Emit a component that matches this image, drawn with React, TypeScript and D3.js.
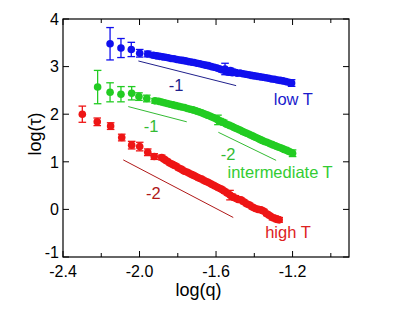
import React from 'react';
import * as d3 from 'd3';

// [log(q), log(tau), error]
const lowT: [number, number, number][] = [
  [-2.154, 3.48, 0.34], [-2.097, 3.39, 0.2], [-2.043, 3.36, 0.15], [-1.999, 3.28, 0.08],
  [-1.957, 3.265, 0.06], [-1.928, 3.24, 0.05], [-1.91, 3.225, 0.04], [-1.895, 3.215, 0.04],
  [-1.88, 3.205, 0.04], [-1.865, 3.195, 0.04], [-1.85, 3.185, 0.04], [-1.835, 3.17, 0.04],
  [-1.82, 3.165, 0.04], [-1.805, 3.15, 0.04], [-1.79, 3.14, 0.04], [-1.775, 3.13, 0.04],
  [-1.76, 3.12, 0.04], [-1.745, 3.105, 0.04], [-1.73, 3.095, 0.04], [-1.715, 3.085, 0.04],
  [-1.7, 3.07, 0.04], [-1.685, 3.06, 0.04], [-1.67, 3.045, 0.04], [-1.655, 3.03, 0.04],
  [-1.64, 3.02, 0.04], [-1.625, 3.0, 0.04], [-1.61, 2.985, 0.04], [-1.595, 2.97, 0.04],
  [-1.58, 2.95, 0.04], [-1.57, 2.935, 0.04], [-1.56, 2.93, 0.05], [-1.553, 2.95, 0.12],
  [-1.545, 2.9, 0.05], [-1.535, 2.88, 0.05], [-1.525, 2.915, 0.05], [-1.515, 2.87, 0.05],
  [-1.505, 2.885, 0.05], [-1.49, 2.86, 0.04], [-1.475, 2.865, 0.04], [-1.46, 2.85, 0.04],
  [-1.445, 2.84, 0.04], [-1.43, 2.83, 0.04], [-1.415, 2.815, 0.04], [-1.4, 2.805, 0.04],
  [-1.385, 2.795, 0.04], [-1.37, 2.785, 0.04], [-1.355, 2.775, 0.04], [-1.34, 2.765, 0.04],
  [-1.325, 2.755, 0.04], [-1.31, 2.74, 0.04], [-1.295, 2.735, 0.04], [-1.28, 2.72, 0.04],
  [-1.265, 2.71, 0.04], [-1.25, 2.7, 0.04], [-1.235, 2.685, 0.04], [-1.22, 2.67, 0.04],
  [-1.205, 2.655, 0.07],
];

const intermediateT: [number, number, number][] = [
  [-2.219, 2.57, 0.35], [-2.154, 2.46, 0.2], [-2.097, 2.42, 0.16], [-2.041, 2.44, 0.14],
  [-2.003, 2.37, 0.08], [-1.962, 2.33, 0.07], [-1.919, 2.28, 0.05], [-1.9, 2.27, 0.04],
  [-1.885, 2.255, 0.04], [-1.87, 2.24, 0.04], [-1.855, 2.225, 0.04], [-1.84, 2.21, 0.04],
  [-1.825, 2.195, 0.04], [-1.81, 2.18, 0.04], [-1.795, 2.165, 0.04], [-1.78, 2.15, 0.04],
  [-1.765, 2.14, 0.04], [-1.75, 2.12, 0.04], [-1.735, 2.105, 0.04], [-1.72, 2.09, 0.04],
  [-1.705, 2.07, 0.04], [-1.69, 2.05, 0.04], [-1.675, 2.03, 0.04], [-1.66, 2.005, 0.04],
  [-1.645, 1.98, 0.04], [-1.63, 1.955, 0.04], [-1.615, 1.93, 0.04], [-1.6, 1.905, 0.04],
  [-1.59, 1.88, 0.1], [-1.58, 1.86, 0.05], [-1.57, 1.84, 0.05], [-1.56, 1.825, 0.05],
  [-1.545, 1.79, 0.04], [-1.53, 1.765, 0.04], [-1.515, 1.74, 0.04], [-1.5, 1.71, 0.04],
  [-1.485, 1.685, 0.04], [-1.47, 1.655, 0.04], [-1.455, 1.625, 0.04], [-1.44, 1.6, 0.04],
  [-1.425, 1.575, 0.04], [-1.41, 1.545, 0.04], [-1.395, 1.515, 0.04], [-1.38, 1.49, 0.04],
  [-1.365, 1.46, 0.04], [-1.35, 1.43, 0.04], [-1.335, 1.41, 0.04], [-1.32, 1.385, 0.04],
  [-1.305, 1.36, 0.04], [-1.29, 1.335, 0.04], [-1.275, 1.31, 0.04], [-1.26, 1.29, 0.04],
  [-1.245, 1.26, 0.04], [-1.23, 1.24, 0.04], [-1.215, 1.21, 0.04], [-1.2, 1.18, 0.07],
];

const highT: [number, number, number][] = [
  [-2.299, 2.0, 0.17], [-2.221, 1.84, 0.08], [-2.151, 1.75, 0.07], [-2.093, 1.51, 0.07],
  [-2.041, 1.35, 0.08], [-1.999, 1.32, 0.09], [-1.957, 1.2, 0.07], [-1.923, 1.11, 0.06],
  [-1.884, 1.09, 0.05], [-1.87, 1.05, 0.04], [-1.855, 1.01, 0.04], [-1.84, 0.97, 0.04],
  [-1.825, 0.94, 0.04], [-1.81, 0.91, 0.04], [-1.795, 0.87, 0.04], [-1.78, 0.84, 0.04],
  [-1.765, 0.8, 0.04], [-1.75, 0.78, 0.04], [-1.735, 0.75, 0.04], [-1.72, 0.72, 0.04],
  [-1.705, 0.69, 0.04], [-1.69, 0.66, 0.04], [-1.675, 0.635, 0.04], [-1.66, 0.6, 0.04],
  [-1.645, 0.575, 0.04], [-1.63, 0.545, 0.04], [-1.615, 0.51, 0.04], [-1.6, 0.48, 0.04],
  [-1.585, 0.45, 0.04], [-1.57, 0.42, 0.04], [-1.555, 0.38, 0.04], [-1.54, 0.34, 0.04],
  [-1.527, 0.3, 0.1], [-1.515, 0.27, 0.05], [-1.5, 0.24, 0.05], [-1.485, 0.21, 0.04],
  [-1.47, 0.2, 0.04], [-1.455, 0.16, 0.04], [-1.44, 0.12, 0.04], [-1.425, 0.09, 0.04],
  [-1.41, 0.05, 0.04], [-1.395, 0.02, 0.04], [-1.38, 0.0, 0.04], [-1.365, -0.01, 0.04],
  [-1.35, -0.04, 0.04], [-1.335, -0.09, 0.04], [-1.32, -0.13, 0.04], [-1.305, -0.17, 0.05],
  [-1.29, -0.19, 0.05], [-1.28, -0.21, 0.05], [-1.27, -0.22, 0.05],
];

// slope guide lines: [x1, y1, x2, y2] and label centre
const guideLines = [
  { pts: [-2.006, 3.118, -1.495, 2.6], color: '#20208c', label: '-1', lx: -1.809, ly: 2.61 },
  { pts: [-2.059, 2.16, -1.753, 1.84], color: '#33bb33', label: '-1', lx: -1.94, ly: 1.75 },
  { pts: [-1.588, 1.62, -1.286, 1.03], color: '#33bb33', label: '-2', lx: -1.537, ly: 1.16 },
  { pts: [-2.085, 1.04, -1.51, -0.17], color: '#b01818', label: '-2', lx: -1.928, ly: 0.34 },
];

const seriesInfo = [
  { name: 'low T', data: lowT, color: '#1010ee', lx: -1.196, ly: 2.32, labelFill: '#1a1acc' },
  { name: 'intermediate T', data: intermediateT, color: '#22cc22', lx: -1.265, ly: 0.78, labelFill: '#33cc33' },
  { name: 'high T', data: highT, color: '#ee1515', lx: -1.224, ly: -0.47, labelFill: '#dd2222' },
];

const xMajor = [-2.4, -2.0, -1.6, -1.2];
const xMinor = [-2.2, -1.8, -1.4, -1.0];
const yTicks = [4, 3, 2, 1, 0, -1];

const width = 393;
const height = 312;
const left = 63, right = 349, top = 19, bottom = 257;
const font = '"Liberation Sans", Arial, Helvetica, sans-serif';

const App: React.FC = () => {
  const x = d3.scaleLinear().domain([-2.4, -0.905]).range([left, right]);
  const y = d3.scaleLinear().domain([-1, 4]).range([bottom, top]);

  return (
    <div style={{ position: 'absolute', left: 0, top: 0 }}>
      <svg width={width} height={height} style={{ display: 'block', background: '#fff' }}>
        {/* frame */}
        <rect x={left} y={top} width={right - left} height={bottom - top} fill="none" stroke="#000" strokeWidth={1.2} />

        {/* ticks */}
        {xMajor.concat(xMinor).map((t) => {
          const len = xMajor.includes(t) ? 6 : 4;
          return (
            <g key={'xt' + t} stroke="#000" strokeWidth={1}>
              <line x1={x(t)} x2={x(t)} y1={bottom} y2={bottom - len} />
              <line x1={x(t)} x2={x(t)} y1={top} y2={top + len} />
            </g>
          );
        })}
        {yTicks.map((t) => (
          <g key={'yt' + t} stroke="#000" strokeWidth={1}>
            <line x1={left} x2={left + 6} y1={y(t)} y2={y(t)} />
            <line x1={right} x2={right - 6} y1={y(t)} y2={y(t)} />
          </g>
        ))}

        {/* tick labels */}
        {xMajor.map((t) => (
          <text key={'xl' + t} x={x(t)} y={276.5} textAnchor="middle" fontFamily={font} fontSize={16} fill="#000">
            {d3.format('.1f')(t).replace('−', '-')}
          </text>
        ))}
        {yTicks.map((t) => (
          <text key={'yl' + t} x={59} y={y(t) + (t === -1 ? -5 : 0)} dy="0.36em" textAnchor="end" fontFamily={font} fontSize={16} fill="#000">
            {String(t)}
          </text>
        ))}

        {/* axis titles */}
        <text x={198.5} y={296} textAnchor="middle" fontFamily={font} fontSize={18} fill="#000">log(q)</text>
        <text transform="translate(41,134) rotate(-90)" textAnchor="middle" fontFamily={font} fontSize={18} fill="#000">log(τ)</text>

        {/* guide lines */}
        {guideLines.map((g, i) => (
          <g key={'g' + i}>
            <line x1={x(g.pts[0])} y1={y(g.pts[1])} x2={x(g.pts[2])} y2={y(g.pts[3])} stroke={g.color} strokeWidth={1} />
            <text x={x(g.lx)} y={y(g.ly)} dy="0.36em" textAnchor="middle" fontFamily={font} fontSize={16.5} fill={g.color}>{g.label}</text>
          </g>
        ))}

        {/* data */}
        {seriesInfo.map((s) => (
          <g key={s.name}>
            {s.data.map((d, i) => (
              <g key={i} stroke={s.color} strokeWidth={1.3}>
                <line x1={x(d[0])} x2={x(d[0])} y1={y(d[1] - d[2])} y2={y(d[1] + d[2])} />
                <line x1={x(d[0]) - 3.8} x2={x(d[0]) + 3.8} y1={y(d[1] - d[2])} y2={y(d[1] - d[2])} />
                <line x1={x(d[0]) - 3.8} x2={x(d[0]) + 3.8} y1={y(d[1] + d[2])} y2={y(d[1] + d[2])} />
              </g>
            ))}
            {s.data.map((d, i) => (
              <circle key={'c' + i} cx={x(d[0])} cy={y(d[1])} r={3.8} fill={s.color} />
            ))}
            <text x={x(s.lx)} y={y(s.ly)} dy="0.36em" textAnchor="middle" fontFamily={font} fontSize={16.5} fill={s.labelFill}>{s.name}</text>
          </g>
        ))}
      </svg>
    </div>
  );
};

export default App;
